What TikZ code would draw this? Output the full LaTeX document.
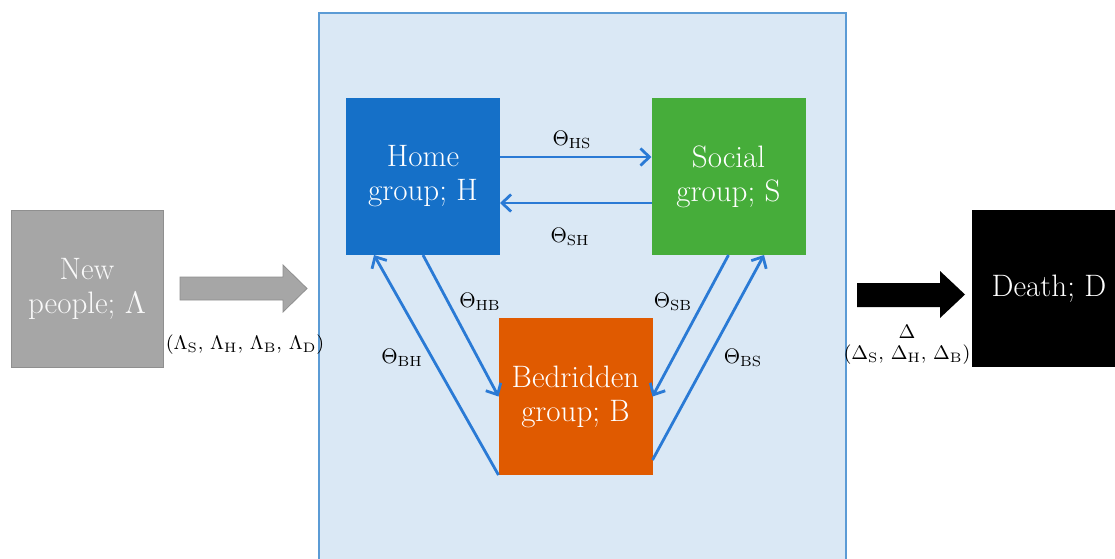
\RequirePackage{fix-cm}
\documentclass[tikz,border=0pt]{standalone}
\usetikzlibrary{arrows.meta,calc}
\definecolor{panelfill}{HTML}{DAE8F5}
\definecolor{panelline}{HTML}{5B9BD5}
\definecolor{homeblue}{HTML}{1570C8}
\definecolor{socialgreen}{HTML}{46AD3A}
\definecolor{bedorange}{HTML}{E05A00}
\definecolor{flowblue}{HTML}{2A7AD5}
\definecolor{newgray}{HTML}{A6A6A6}
\definecolor{newgrayline}{HTML}{8F8F8F}
\begin{document}
\begin{tikzpicture}[x=0.5pt,y=-0.5pt,
  box/.style={rectangle, inner sep=0pt, outer sep=0pt, minimum width=77pt,
    minimum height=78.5pt, align=center, text=white,
    font=\fontsize{15.5}{17}\selectfont},
  flow/.style={draw=flowblue, line width=1.4pt,
    -{Straight Barb[length=4.5pt,width=8.5pt]}},
  lbl/.style={font=\fontsize{10.5}{12}\selectfont, text=black, inner sep=1pt},
  sidelbl/.style={font=\fontsize{9.8}{12}\selectfont, text=black, inner sep=1pt},
  blockarrow/.style={line width=0.4pt}
]
\useasboundingbox (0,0) rectangle (1115,558);

% panel
\fill[panelfill] (319,13) rectangle (846,560);
\draw[panelline, line width=0.8pt] (319,560) -- (319,13) -- (846,13) -- (846,560);

% boxes
\node[box, fill=newgray, draw=newgrayline, line width=0.5pt, text=white!95!gray,
  minimum width=76pt] (N) at (87,288.5) {New\\people; $\Lambda$};
\node[box, fill=homeblue] (H) at (423,176.5) {Home\\group; H};
\node[box, fill=socialgreen] (S) at (728.5,176.5) {Social\\group; S};
\node[box, fill=bedorange] (B) at (575.5,396.5) {Bedridden\\group; B};
\node[box, fill=black] (D) at (1049,288.5) {Death; D};

% block arrows
\filldraw[blockarrow, fill=newgray, draw=newgrayline]
  (180,277) -- (283,277) -- (283,265) -- (307,288.5) -- (283,312) -- (283,300) -- (180,300) -- cycle;
\fill[black]
  (857,283) -- (940,283) -- (940,271) -- (965,294.5) -- (940,318) -- (940,307) -- (857,307) -- cycle;

% flows
\draw[flow] ($(H.east)+(0,-19.5)$) -- ($(S.west)+(0,-19.5)$);
\draw[flow] ($(S.west)+(0,26.5)$) -- ($(H.east)+(0,26.5)$);
\draw[flow] (H.south) -- (B.west);
\draw[flow] (B.south west) -- ($(H.south)+(-49,0)$);
\draw[flow] (S.south) -- (B.east);
\draw[flow] ($(B.east)+(0,63.5)$) -- ($(S.south)+(35.5,0)$);

% labels
\node[lbl] (lHS) at (572,140) {$\Theta_{\mathrm{HS}}$};
\node[lbl] (lSH) at (570,237) {$\Theta_{\mathrm{SH}}$};
\node[lbl] (lHB) at (480,302) {$\Theta_{\mathrm{HB}}$};
\node[lbl] (lSB) at (673,302) {$\Theta_{\mathrm{SB}}$};
\node[lbl] (lBH) at (402,358) {$\Theta_{\mathrm{BH}}$};
\node[lbl] (lBS) at (743,358) {$\Theta_{\mathrm{BS}}$};
\node[sidelbl] (lL) at (245,345) {$(\Lambda_{\mathrm{S}},\,\Lambda_{\mathrm{H}},\,\Lambda_{\mathrm{B}},\,\Lambda_{\mathrm{D}})$};
\node[sidelbl] (lD1) at (907,332) {$\Delta$};
\node[sidelbl] (lD2) at (907,355) {$(\Delta_{\mathrm{S}},\,\Delta_{\mathrm{H}},\,\Delta_{\mathrm{B}})$};
\end{tikzpicture}
\end{document}
